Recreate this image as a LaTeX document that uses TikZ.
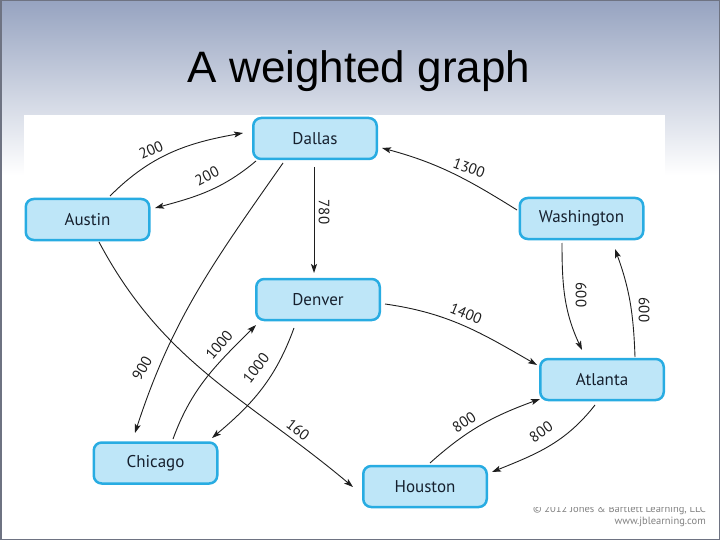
\documentclass[tikz,border=0pt]{standalone}
\usepackage{fontspec}
\setmainfont{Liberation Sans}
\newfontfamily\nodefont{PT Sans}
\usetikzlibrary{arrows.meta,calc}
\definecolor{nodefill}{RGB}{190,230,248}
\definecolor{nodeedge}{RGB}{40,172,226}
\definecolor{nodetext}{RGB}{22,32,46}
\definecolor{edgecol}{RGB}{30,30,30}
\definecolor{bgtop}{RGB}{150,163,192}
\definecolor{framecol}{RGB}{110,115,130}
\definecolor{copycol}{RGB}{130,130,130}
\begin{document}
\begin{tikzpicture}[x=1pt,y=1pt,
 city/.style={draw=nodeedge, fill=nodefill, line width=2.5pt, rounded corners=8pt, minimum width=123.5pt, minimum height=41pt, inner sep=0pt, font=\nodefont\fontsize{17}{19}\selectfont, text=nodetext},
 road/.style={draw=edgecol, line width=0.9pt, -{Stealth[length=9pt,width=6pt,inset=2pt]}},
 weight/.style={font=\nodefont\fontsize{15}{17}\selectfont, text=black!88, inner sep=0pt}]
\useasboundingbox (0,0) rectangle (720,-540);
\shade[top color=bgtop, bottom color=white] (0,0) rectangle (720,-175);
\fill[white] (0,-175) rectangle (720,-540);
\fill[white] (24,-115) rectangle (665,-509);
\node[anchor=base, font=\fontsize{44}{50}\selectfont] (title) at (359,-83) {A weighted graph};

\node[city] (dallas) at (315,-138.5) {Dallas};
\node[city] (austin) at (87.5,-219.5) {Austin};
\node[city] (washington) at (581.5,-218.5) {Washington};
\node[city] (denver) at (318,-299.5) {Denver};
\node[city] (atlanta) at (602,-379.5) {Atlanta};
\node[city] (chicago) at (155.5,-463) {Chicago};
\node[city] (houston) at (425,-486.5) {Houston};

\draw[road] ($(austin)+(22.5,23.5)$) to[out=45,in=190] ($(dallas)+(-72,5.5)$);
\draw[road] ($(dallas)+(-59,-22.5)$) to[out=220,in=15] ($(austin)+(67.5,11.5)$);
\draw[road] ($(dallas)+(-1,-28.5)$) -- ($(denver)+(-4,26.5)$);
\draw[road] ($(dallas)+(-32,-24.5)$) to[out=235,in=72] ($(chicago)+(-20.5,30)$);
\draw[road] ($(chicago)+(17.5,24)$) to[out=70,in=225] ($(denver)+(-62,-25.5)$);
\draw[road] ($(denver)+(-24,-28.5)$) to[out=250,in=40] ($(chicago)+(56.5,25)$);
\draw[road] ($(austin)+(11.5,-22.5)$) to[out=-62,in=140] ($(houston)+(-72,-0.5)$);
\draw[road] ($(washington)+(-64.5,8.5)$) to[out=148,in=-15] ($(dallas)+(67,-9.5)$);
\draw[road] ($(denver)+(67,-4.5)$) to[out=-8,in=150] ($(atlanta)+(-65,14.5)$);
\draw[road] ($(washington)+(-19.5,-24.5)$) to[out=-90,in=115] ($(atlanta)+(-20,29.5)$);
\draw[road] ($(atlanta)+(33,22.5)$) to[out=92,in=-70] ($(washington)+(33.5,-30.5)$);
\draw[road] ($(houston)+(5,23.5)$) to[out=42,in=200] ($(atlanta)+(-62,-19.5)$);
\draw[road] ($(atlanta)+(-7,-25.5)$) to[out=232,in=22] ($(houston)+(67,14.5)$);

\node[weight, rotate=24] (w1) at (151,-150) {200};
\node[weight, rotate=27] (w2) at (207,-176) {200};
\node[weight, rotate=-90] (w3) at (324,-212) {780};
\node[weight, rotate=-20] (w4) at (469,-168) {1300};
\node[weight, rotate=60] (w5) at (142,-368) {900};
\node[weight, rotate=50] (w6) at (219,-345) {1000};
\node[weight, rotate=52] (w7) at (256,-368) {1000};
\node[weight, rotate=-22] (w8) at (466,-314) {1400};
\node[weight, rotate=-90] (w9) at (581,-295) {600};
\node[weight, rotate=-90] (w10) at (644,-310) {600};
\node[weight, rotate=-38] (w11) at (298,-430) {160};
\node[weight, rotate=33] (w12) at (464,-422) {800};
\node[weight, rotate=35] (w13) at (541,-432) {800};

\begin{scope}
\clip (480,-507.5) rectangle (716,-536);
\node[anchor=base east, font=\nodefont\fontsize{10.5}{12}\selectfont, text=copycol, inner sep=0pt] (copy1) at (706,-512) {© 2012 Jones \& Bartlett Learning, LLC};
\node[anchor=base east, font=\nodefont\fontsize{10.5}{12}\selectfont, text=copycol, inner sep=0pt] (copy2) at (706,-524) {www.jblearning.com};
\end{scope}
\draw[framecol, line width=1.5pt] (0.75,-0.75) rectangle (719.25,-539.25);
\end{tikzpicture}
\end{document}
